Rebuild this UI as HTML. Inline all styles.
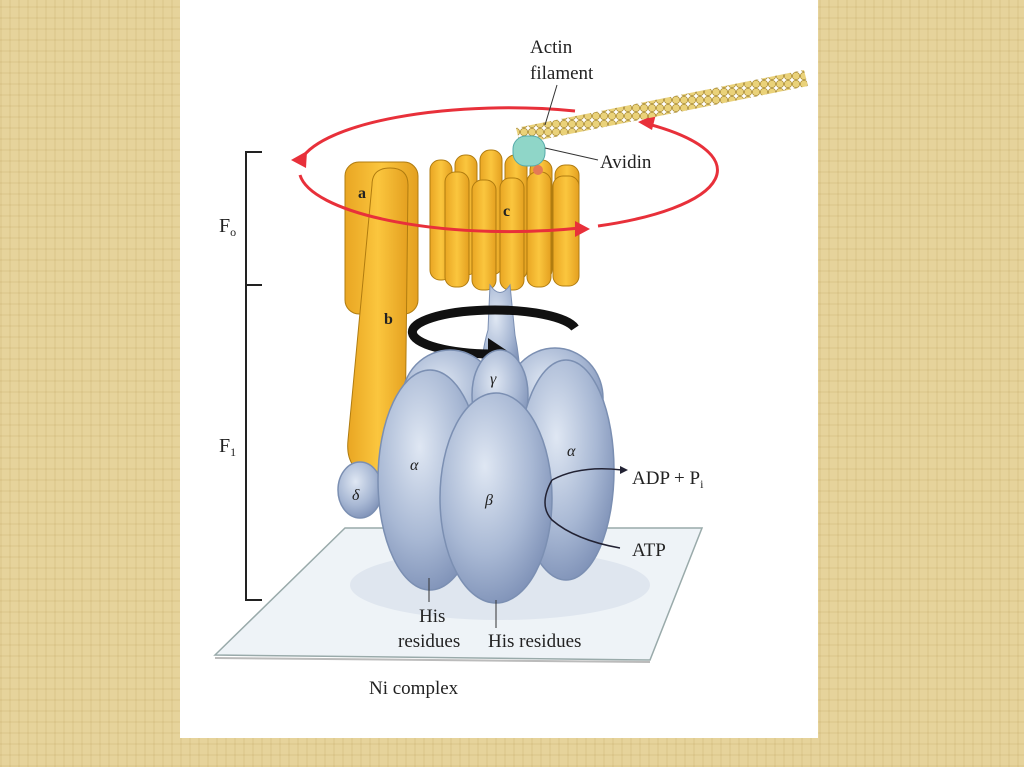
<!DOCTYPE html>
<html><head><meta charset="utf-8"><style>
html,body{margin:0;padding:0;width:1024px;height:767px;overflow:hidden;
background:#e6d39b;
background-image:repeating-linear-gradient(90deg,rgba(180,150,80,.12) 0 2px,transparent 2px 9px),repeating-linear-gradient(0deg,rgba(180,150,80,.12) 0 2px,transparent 2px 11px);}
svg{position:absolute;left:0;top:0}
text{font-family:"Liberation Serif",serif;fill:#222}
</style></head><body>
<svg width="1024" height="767" viewBox="0 0 1024 767">
<defs>
<radialGradient id="bl" cx="40%" cy="35%" r="70%"><stop offset="0" stop-color="#dfe7f3"/><stop offset=".6" stop-color="#a8b8d4"/><stop offset="1" stop-color="#7d90b6"/></radialGradient>
<linearGradient id="or" x1="0" x2="1"><stop offset="0" stop-color="#e9a623"/><stop offset=".5" stop-color="#fbc63e"/><stop offset="1" stop-color="#e4a020"/></linearGradient>
<pattern id="bead" width="8" height="8" patternUnits="userSpaceOnUse"><circle cx="4" cy="4" r="3.7" fill="#ead27a" stroke="#a98a30" stroke-width=".7"/></pattern>
</defs>
<rect x="180" y="0" width="638" height="738" fill="#fff"/>
<!-- plate -->
<polygon points="215,655 345,528 702,528 650,660" fill="#eef3f7" stroke="#9aa" stroke-width="1.5"/>
<line x1="215" y1="658" x2="650" y2="662" stroke="#bbb" stroke-width="2"/>
<ellipse cx="500" cy="585" rx="150" ry="35" fill="#dfe6ef"/>
<!-- brackets -->
<path d="M262,152 H246 V600 H262 M246,285 H262" fill="none" stroke="#222" stroke-width="2"/>
<text x="219" y="232" font-size="20">F<tspan font-size="12" dy="4">o</tspan></text>
<text x="219" y="452" font-size="20">F<tspan font-size="12" dy="4">1</tspan></text>
<!-- red ellipse back -->
<path d="M575,111 A210,62 0 0 0 300,162" fill="none" stroke="#e8303a" stroke-width="3"/>
<!-- b stalk & a -->
<rect x="345" y="162" width="73" height="152" rx="14" fill="url(#or)" stroke="#b07c10"/>
<path d="M372,185 Q372,168 390,168 Q408,168 408,185 L405,440 Q400,480 370,475 Q345,470 348,440 Z" fill="url(#or)" stroke="#b07c10"/>
<!-- c ring -->
<g fill="url(#or)" stroke="#b07c10">
<rect x="430" y="160" width="22" height="120" rx="10"/><rect x="455" y="155" width="22" height="120" rx="10"/><rect x="480" y="150" width="22" height="125" rx="10"/><rect x="505" y="155" width="22" height="125" rx="10"/><rect x="530" y="160" width="22" height="120" rx="10"/><rect x="555" y="165" width="24" height="115" rx="10"/>
<rect x="445" y="172" width="24" height="115" rx="10"/><rect x="472" y="180" width="24" height="110" rx="10"/><rect x="500" y="178" width="24" height="112" rx="10"/><rect x="527" y="172" width="24" height="115" rx="10"/><rect x="553" y="176" width="26" height="110" rx="10"/>
</g>
<!-- gamma stalk -->
<path d="M490,285 Q500,300 510,285 L515,335 Q520,360 520,380 L480,380 Q482,350 488,330 Z" fill="url(#bl)" stroke="#7b8fb2"/>
<!-- black arrow -->
<path d="M575,328 A82,22 0 1 0 492,354" fill="none" stroke="#111" stroke-width="9"/>
<polygon points="488,338 512,354 488,370" fill="#111"/>
<!-- blue ellipses -->
<g stroke="#7b8fb2" stroke-width="1.5" fill="url(#bl)">
<ellipse cx="450" cy="400" rx="48" ry="50"/><ellipse cx="555" cy="398" rx="48" ry="50"/>
<ellipse cx="500" cy="395" rx="28" ry="45"/>
<ellipse cx="360" cy="490" rx="22" ry="28"/>
<ellipse cx="566" cy="470" rx="48" ry="110"/>
<ellipse cx="430" cy="480" rx="52" ry="110"/>
<ellipse cx="496" cy="498" rx="56" ry="105"/>
</g>
<!-- red ellipse front -->
<path d="M300,175 A210,62 0 0 0 580,228" fill="none" stroke="#e8303a" stroke-width="3"/>
<path d="M598,226 A210,62 0 0 0 648,124" fill="none" stroke="#e8303a" stroke-width="3"/>
<polygon points="291,160 307,151 306,168" fill="#e8303a"/>
<polygon points="590,229 575,221 575,237" fill="#e8303a"/>
<polygon points="638,122 656,114 652,130" fill="#e8303a"/>
<!-- actin -->
<polygon points="516,128 804,70 808,86 520,144" fill="url(#bead)"/>
<rect x="513" y="136" width="32" height="30" rx="13" fill="#8fd6c8" stroke="#5aa"/>
<circle cx="538" cy="170" r="5" fill="#e57a55"/>
<line x1="545" y1="148" x2="598" y2="160" stroke="#333"/>
<line x1="557" y1="85" x2="545" y2="125" stroke="#333"/>
<path d="M552,480 Q538,505 552,520 Q575,540 620,548" fill="none" stroke="#223" stroke-width="1.5"/>
<path d="M552,480 Q580,465 622,470" fill="none" stroke="#223" stroke-width="1.5"/>
<polygon points="628,470 620,466 620,474" fill="#223"/>
<line x1="429" y1="578" x2="429" y2="602" stroke="#333"/>
<line x1="496" y1="600" x2="496" y2="628" stroke="#333"/>
<!-- labels -->
<text x="530" y="53" font-size="19">Actin</text>
<text x="530" y="79" font-size="19">filament</text>
<text x="600" y="168" font-size="19">Avidin</text>
<text x="358" y="198" font-size="16" font-weight="bold">a</text>
<text x="503" y="216" font-size="16" font-weight="bold">c</text>
<text x="384" y="324" font-size="16" font-weight="bold">b</text>
<text x="490" y="384" font-size="16" font-style="italic">γ</text>
<text x="410" y="470" font-size="16" font-style="italic">α</text>
<text x="567" y="456" font-size="16" font-style="italic">α</text>
<text x="485" y="505" font-size="16" font-style="italic">β</text>
<text x="352" y="500" font-size="16" font-style="italic">δ</text>
<text x="632" y="484" font-size="19">ADP + P<tspan font-size="12" dy="4">i</tspan></text>
<text x="632" y="556" font-size="19">ATP</text>
<text x="419" y="622" font-size="19">His</text>
<text x="398" y="647" font-size="19">residues</text>
<text x="488" y="647" font-size="19">His residues</text>
<text x="369" y="694" font-size="19">Ni complex</text>
</svg>
</body></html>
